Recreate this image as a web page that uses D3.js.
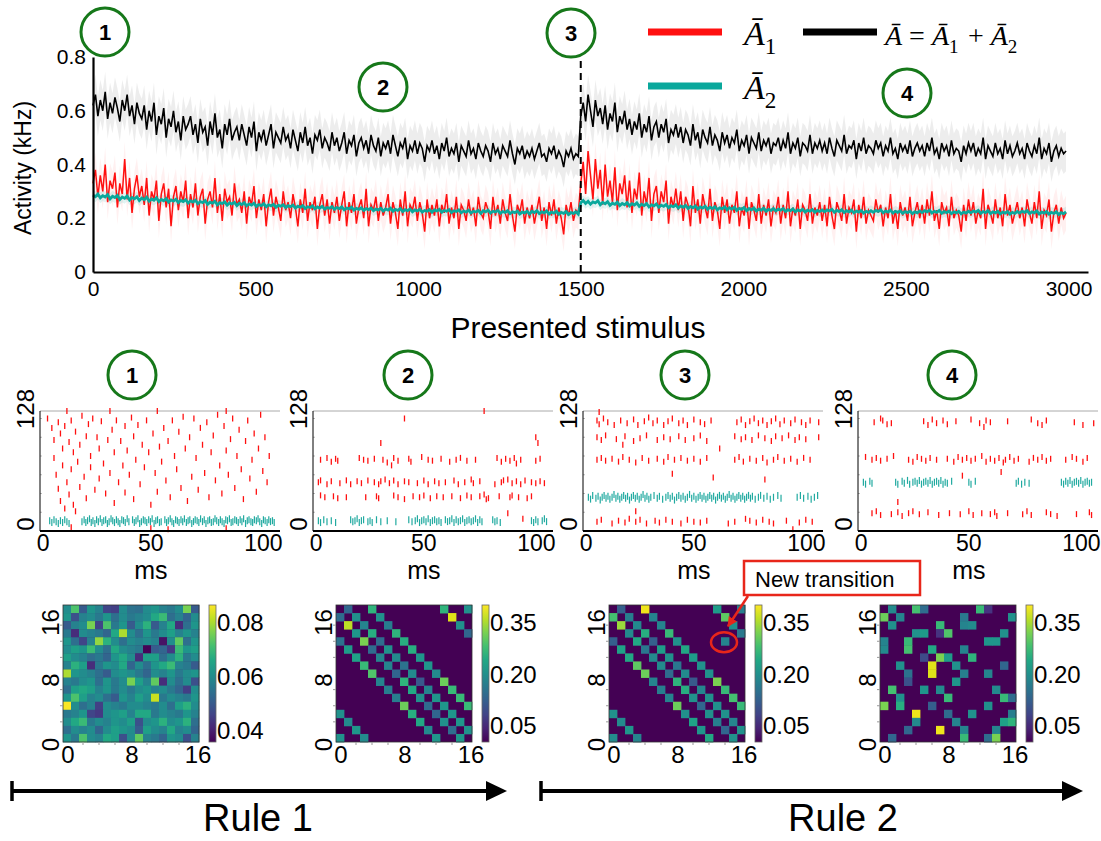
<!DOCTYPE html>
<html>
<head>
<meta charset="utf-8">
<script src="https://cdn.jsdelivr.net/npm/d3@7"></script>
<style>
  body { margin: 0; background: #fff; }
  svg { display: block; font-family: "Liberation Sans", Arial, Helvetica, sans-serif; }
</style>
</head>
<body>
<svg id="fig" width="1101" height="841"></svg>
<script>
/* ---------- top panel: mean activity per presented stimulus (kHz), sampled every 7.5 stimuli ---------- */
const stimulus = d3.range(0, 3000, 7.5);
const activityTotal = [
  0.62,0.66,0.58,0.64,0.60,0.67,0.57,0.63,0.59,0.65,0.61,0.56,0.64,0.60,0.66,0.58,0.62,0.55,0.63,0.59,
  0.57,0.62,0.53,0.60,0.56,0.63,0.51,0.58,0.55,0.61,0.50,0.57,0.54,0.60,0.52,0.56,0.49,0.58,0.53,0.55,
  0.58,0.51,0.55,0.48,0.57,0.52,0.54,0.47,0.56,0.51,0.59,0.50,0.53,0.46,0.55,0.51,0.57,0.49,0.52,0.54,
  0.49,0.55,0.51,0.47,0.54,0.50,0.56,0.45,0.52,0.49,0.53,0.47,0.51,0.55,0.46,0.52,0.50,0.48,0.54,0.49,
  0.51,0.46,0.53,0.49,0.45,0.52,0.48,0.54,0.47,0.50,0.44,0.51,0.49,0.53,0.46,0.50,0.48,0.45,0.52,0.47,
  0.50,0.45,0.48,0.52,0.44,0.49,0.47,0.51,0.43,0.48,0.50,0.46,0.49,0.44,0.51,0.47,0.45,0.50,0.43,0.48,
  0.46,0.49,0.44,0.51,0.47,0.43,0.48,0.46,0.50,0.42,0.47,0.45,0.49,0.44,0.48,0.46,0.41,0.47,0.45,0.49,
  0.44,0.47,0.42,0.48,0.45,0.50,0.43,0.46,0.44,0.48,0.41,0.47,0.45,0.43,0.49,0.44,0.46,0.42,0.48,0.45,
  0.43,0.47,0.45,0.41,0.48,0.44,0.46,0.42,0.47,0.45,0.43,0.49,0.44,0.40,0.46,0.44,0.47,0.42,0.45,0.43,
  0.46,0.42,0.45,0.48,0.43,0.44,0.41,0.46,0.44,0.47,0.42,0.45,0.43,0.39,0.45,0.43,0.46,0.42,0.44,0.43,
  0.58,0.63,0.56,0.66,0.60,0.54,0.64,0.58,0.61,0.55,0.62,0.53,0.59,0.56,0.63,0.52,0.58,0.55,0.60,0.53,
  0.57,0.51,0.56,0.53,0.59,0.50,0.55,0.52,0.58,0.49,0.54,0.56,0.50,0.55,0.52,0.57,0.48,0.53,0.51,0.55,
  0.50,0.54,0.48,0.53,0.51,0.47,0.55,0.49,0.52,0.46,0.53,0.50,0.48,0.54,0.47,0.51,0.49,0.45,0.52,0.48,
  0.51,0.46,0.50,0.48,0.53,0.45,0.49,0.47,0.51,0.44,0.50,0.48,0.46,0.52,0.45,0.49,0.47,0.50,0.44,0.48,
  0.47,0.50,0.45,0.49,0.46,0.52,0.44,0.48,0.46,0.50,0.43,0.48,0.47,0.45,0.51,0.44,0.48,0.46,0.49,0.45,
  0.48,0.44,0.50,0.46,0.43,0.49,0.47,0.45,0.51,0.44,0.47,0.46,0.49,0.42,0.48,0.45,0.50,0.44,0.47,0.46,
  0.44,0.49,0.46,0.48,0.43,0.47,0.45,0.50,0.44,0.46,0.42,0.48,0.45,0.47,0.44,0.49,0.43,0.46,0.48,0.45,
  0.47,0.43,0.48,0.45,0.50,0.44,0.46,0.42,0.48,0.45,0.47,0.43,0.49,0.44,0.46,0.45,0.41,0.47,0.44,0.48,
  0.45,0.48,0.43,0.46,0.44,0.50,0.42,0.47,0.45,0.43,0.48,0.44,0.46,0.42,0.49,0.44,0.47,0.43,0.45,0.48,
  0.44,0.46,0.42,0.48,0.45,0.43,0.47,0.44,0.50,0.42,0.46,0.44,0.48,0.41,0.45,0.47,0.43,0.46,0.44,0.45
];
const activityA1 = [
  0.33,0.38,0.28,0.36,0.30,0.40,0.26,0.34,0.31,0.37,0.24,0.33,0.29,0.42,0.27,0.35,0.22,0.31,0.36,0.28,
  0.32,0.25,0.35,0.21,0.30,0.27,0.34,0.19,0.29,0.33,0.24,0.31,0.17,0.28,0.32,0.23,0.30,0.26,0.34,0.20,
  0.29,0.24,0.33,0.21,0.28,0.31,0.18,0.27,0.30,0.24,0.35,0.22,0.29,0.19,0.31,0.26,0.28,0.21,0.33,0.25,
  0.27,0.22,0.30,0.18,0.28,0.25,0.32,0.20,0.27,0.23,0.29,0.17,0.26,0.31,0.21,0.28,0.24,0.19,0.30,0.23,
  0.26,0.20,0.29,0.24,0.17,0.27,0.22,0.31,0.19,0.26,0.23,0.28,0.16,0.25,0.29,0.21,0.27,0.18,0.26,0.22,
  0.28,0.19,0.25,0.30,0.17,0.26,0.22,0.29,0.18,0.24,0.27,0.20,0.31,0.17,0.25,0.23,0.28,0.19,0.26,0.21,
  0.24,0.29,0.18,0.26,0.22,0.16,0.27,0.21,0.30,0.17,0.25,0.23,0.28,0.19,0.26,0.22,0.15,0.27,0.20,0.25,
  0.21,0.27,0.17,0.25,0.22,0.29,0.18,0.24,0.20,0.28,0.16,0.25,0.23,0.19,0.27,0.21,0.24,0.17,0.28,0.22,
  0.20,0.26,0.23,0.16,0.28,0.21,0.25,0.18,0.27,0.22,0.19,0.29,0.21,0.15,0.25,0.22,0.27,0.18,0.24,0.20,
  0.25,0.18,0.23,0.28,0.19,0.24,0.16,0.26,0.21,0.27,0.18,0.24,0.20,0.14,0.25,0.21,0.26,0.19,0.23,0.22,
  0.33,0.41,0.29,0.45,0.36,0.27,0.42,0.31,0.38,0.25,0.40,0.28,0.34,0.26,0.39,0.23,0.33,0.29,0.36,0.24,
  0.34,0.22,0.31,0.27,0.37,0.21,0.30,0.25,0.35,0.19,0.29,0.32,0.22,0.30,0.26,0.34,0.18,0.28,0.24,0.31,
  0.23,0.30,0.19,0.28,0.25,0.17,0.32,0.22,0.27,0.18,0.29,0.24,0.20,0.31,0.19,0.26,0.23,0.16,0.28,0.22,
  0.27,0.18,0.25,0.22,0.30,0.17,0.24,0.21,0.28,0.16,0.26,0.23,0.19,0.29,0.18,0.25,0.21,0.27,0.17,0.24,
  0.22,0.28,0.18,0.25,0.20,0.30,0.17,0.24,0.21,0.27,0.16,0.25,0.23,0.19,0.29,0.18,0.24,0.21,0.26,0.19,
  0.25,0.17,0.28,0.21,0.16,0.26,0.23,0.19,0.29,0.18,0.24,0.22,0.27,0.15,0.25,0.20,0.28,0.18,0.23,0.21,
  0.19,0.27,0.22,0.25,0.17,0.24,0.20,0.29,0.18,0.23,0.16,0.26,0.21,0.24,0.19,0.28,0.17,0.22,0.26,0.20,
  0.25,0.18,0.27,0.21,0.30,0.19,0.23,0.16,0.26,0.22,0.24,0.17,0.28,0.20,0.23,0.21,0.15,0.25,0.19,0.27,
  0.21,0.26,0.18,0.23,0.20,0.31,0.16,0.25,0.22,0.18,0.27,0.20,0.24,0.17,0.29,0.21,0.25,0.18,0.22,0.26,
  0.20,0.24,0.17,0.27,0.22,0.18,0.26,0.20,0.30,0.16,0.23,0.21,0.27,0.15,0.22,0.25,0.18,0.24,0.20,0.22
];
const activityA2 = [
  .286,.280,.290,.276,.284,.279,.288,.272,.282,.277,.285,.270,.279,.274,.283,.268,.277,.272,.280,.266,
  .275,.269,.278,.264,.272,.267,.276,.262,.270,.265,.273,.260,.268,.264,.271,.258,.266,.262,.269,.256,
  .265,.260,.267,.254,.262,.258,.266,.252,.260,.256,.263,.250,.258,.255,.261,.249,.257,.253,.259,.247,
  .256,.251,.258,.246,.253,.249,.256,.244,.251,.247,.254,.243,.250,.246,.252,.241,.248,.245,.250,.240,
  .247,.243,.249,.238,.245,.241,.247,.236,.243,.240,.246,.235,.242,.238,.244,.234,.240,.237,.243,.233,
  .240,.236,.242,.231,.238,.235,.241,.230,.237,.233,.239,.229,.236,.232,.238,.228,.234,.231,.237,.227,
  .235,.230,.237,.226,.233,.229,.236,.225,.232,.228,.234,.224,.231,.227,.233,.223,.229,.226,.232,.222,
  .231,.227,.233,.222,.229,.226,.232,.221,.228,.225,.231,.220,.227,.223,.230,.219,.226,.223,.229,.218,
  .228,.224,.230,.219,.226,.223,.229,.218,.225,.222,.228,.217,.224,.221,.227,.216,.223,.220,.226,.216,
  .226,.221,.228,.217,.224,.220,.227,.216,.223,.219,.226,.215,.222,.218,.225,.214,.221,.218,.224,.215,
  .258,.266,.255,.263,.252,.261,.257,.265,.250,.259,.254,.262,.248,.256,.252,.260,.247,.255,.250,.258,
  .246,.254,.249,.257,.244,.252,.247,.255,.242,.250,.246,.253,.241,.249,.244,.251,.239,.247,.243,.250,
  .238,.246,.241,.248,.236,.244,.239,.246,.234,.242,.238,.245,.233,.241,.236,.243,.231,.239,.235,.242,
  .231,.239,.234,.241,.229,.237,.233,.240,.228,.236,.231,.238,.227,.234,.230,.237,.226,.233,.229,.236,
  .227,.234,.230,.236,.225,.232,.228,.235,.224,.231,.227,.233,.223,.230,.226,.232,.222,.229,.225,.231,
  .224,.231,.227,.233,.222,.229,.225,.232,.221,.228,.224,.230,.220,.227,.223,.229,.219,.226,.222,.228,
  .222,.229,.225,.231,.220,.227,.223,.230,.219,.226,.222,.228,.218,.225,.221,.227,.217,.224,.220,.227,
  .221,.228,.224,.230,.219,.226,.222,.229,.218,.225,.221,.227,.217,.224,.220,.226,.216,.223,.219,.226,
  .220,.227,.223,.229,.218,.225,.221,.228,.217,.224,.220,.226,.216,.223,.219,.225,.215,.222,.218,.225,
  .219,.226,.222,.228,.217,.224,.220,.227,.216,.223,.219,.225,.215,.222,.218,.224,.214,.221,.217,.224
];
// spread (shaded band) around each mean, kHz
const spreadTotal = 0.075, spreadA1 = 0.065, spreadA2 = 0.02;
const xTicksTop = [0, 500, 1000, 1500, 2000, 2500, 3000];
const yTicksTop = [0, 0.2, 0.4, 0.6, 0.8];
const ruleSwitch = 1500;

/* ---------- raster panels: [time ms, neuron] ---------- */
const raster1Red = [[2,120],[4,110],[5,97],[5,78],[6,60],[7,116],[7,45],[8,104],[8,32],[9,88],[9,70],[10,112],[10,24],[11,128],[11,52],[12,95],[12,39],[13,118],[13,66],[13,4],[14,84],[14,28],[15,106],[15,21],[16,74],[17,92],[17,47],[18,123],[19,58],[20,101],[20,35],[21,114],[22,80],[22,68],[23,120],[24,44],[25,100],[26,88],[26,56],[27,117],[28,72],[29,40],[30,97],[31,128],[31,62],[32,108],[33,84],[33,30],[34,118],[35,52],[36,96],[37,70],[38,112],[38,41],[39,86],[40,60],[41,121],[42,101],[42,34],[43,76],[44,113],[45,50],[46,92],[47,68],[48,118],[49,84],[50,28],[50,3],[51,104],[52,62],[53,128],[53,42],[54,90],[55,74],[56,110],[57,54],[58,96],[58,2],[59,36],[60,118],[61,80],[62,66],[63,106],[64,46],[65,122],[66,88],[67,32],[68,100],[69,58],[70,120],[71,78],[72,44],[73,110],[74,92],[75,62],[76,116],[77,36],[78,84],[79,102],[80,54],[81,124],[82,70],[83,40],[84,112],[85,128],[85,86],[85,3],[86,60],[87,98],[88,120],[89,46],[90,80],[91,108],[92,66],[93,34],[94,96],[95,118],[96,56],[97,76],[98,104],[99,42],[100,88],[101,124],[102,64],[103,100],[104,52],[105,80]];
const raster1Cyan = [[3,11],[4,9],[5,12],[6,10],[7,8],[8,11],[9,9],[10,12],[11,10],[12,8],[18,10],[19,12],[19.8,9],[20.6,11],[21.5,13],[22.3,9],[23.1,11],[24,8],[24.8,12],[25.6,10],[26.5,13],[27.3,9],[28.1,11],[29,12],[29.8,8],[30.6,10],[31.5,13],[32.3,11],[33.1,9],[34,12],[34.8,10],[35.6,8],[36.5,12],[37.3,11],[38.1,9],[39,13],[39.8,10],[41.5,12],[42.3,9],[43.1,11],[44,13],[44.8,8],[45.6,10],[46.5,12],[47.3,11],[48.1,9],[49,12],[49.8,10],[50.6,13],[51.5,8],[52.3,11],[53.1,12],[54,9],[54.8,10],[56.5,12],[57.3,9],[58.1,11],[59,13],[59.8,10],[60.6,8],[61.5,12],[62.3,11],[63.1,9],[64,12],[64.8,10],[65.6,13],[66.5,9],[67.3,11],[68.1,12],[69,8],[69.8,10],[70.6,12],[71.5,11],[72.3,9],[73.1,13],[74,10],[74.8,12],[75.6,8],[76.5,11],[77.3,12],[78.1,9],[79,10],[79.8,13],[80.6,11],[81.5,9],[82.3,12],[83.1,10],[84,8],[84.8,12],[85.6,11],[86.5,13],[87.3,9],[88.1,10],[89,12],[89.8,11],[90.6,9],[91.5,12],[92.3,10],[93.1,13],[94,8],[94.8,11],[95.6,12],[96.5,10],[97.3,9],[98.1,12],[99,11],[99.8,13],[100.6,10],[101.5,8],[102.3,12],[103.1,11],[104,9],[104.8,12],[105.6,10],[106.5,11],[107.3,9]];

const raster2Red = [[2,76],[5,78],[7,74],[9,77],[10,75],[20,78],[22,76],[24,75],[27,77],[31,76],[33,73],[36,78],[38,75],[43,77],[44,74],[49,79],[52,76],[54,75],[58,77],[62,74],[65,76],[67,78],[70,75],[74,76],[84,78],[86,74],[88,77],[90,75],[92,78],[93,72],[95,76],[102,75],[104,77],
  [1,52],[2,54],[5,50],[7,53],[11,51],[14,54],[16,50],[19,53],[21,51],[24,54],[27,52],[29,50],[30,53],[32,55],[34,51],[36,54],[38,50],[41,53],[43,52],[47,51],[50,54],[52,50],[55,53],[57,51],[60,52],[64,54],[66,50],[69,52],[72,55],[73,51],[76,53],[83,50],[86,52],[87,54],[89,55],[91,51],[93,53],[95,50],[97,54],[100,52],[102,51],[104,53],[106,51],
  [2,38],[4,36],[8,37],[10,35],[14,36],[23,36],[28,37],[29,35],[36,38],[38,36],[41,34],[45,37],[48,36],[50,38],[53,35],[56,37],[59,36],[63,37],[67,35],[70,38],[72,36],[76,37],[78,39],[79,34],[80,35],[85,37],[90,36],[91,38],[94,36],[98,35],[100,37],
  [41,120],[30,94],[78,128],[102,100],[103,94],[89,19],[96,13],[35,70]];
const raster2Cyan = [[1,11],[2,9],[3.5,12],[5,10],[7,11],[9,9],[16,12],[17,10],[18,11],[19,13],[20,9],[21,11],[22,12],[24,10],[25,11],[26,9],[28,12],[30,10],[33,11],[37,10],[43,12],[44.5,10],[46,11],[47,13],[48,9],[49,11],[50,12],[51,10],[52,13],[53,9],[54,11],[55,12],[56,10],[57,11],[58,9],[60,12],[61,10],[62,11],[63,13],[64,9],[65,12],[66,10],[67,11],[68,13],[69,9],[70,11],[71,12],[72,10],[73,11],[74,13],[75,9],[76,12],[77,10],[82,12],[83,10],[84,11],[85.5,9],[100,11],[101,9],[102,12],[103,10],[105,11],[106,13],[107,10]];

const raster3Red = [[5,118],[6,114],[8,120],[10,116],[13,113],[16,118],[19,115],[22,119],[24,113],[27,117],[29,121],[31,115],[33,118],[36,113],[38,117],[40,120],[43,115],[45,118],[47,113],[50,119],[53,116],[55,114],[58,118],[70,116],[72,119],[74,113],[76,117],[78,120],[80,115],[82,118],[84,113],[86,117],[88,120],[90,114],[92,118],[95,115],[97,119],[100,116],[102,113],[104,118],[108,116],
  [5,100],[7,97],[9,102],[14,98],[18,101],[22,96],[25,99],[28,102],[33,97],[36,100],[39,98],[43,101],[46,97],[50,99],[53,102],[56,96],[69,101],[72,98],[74,100],[77,97],[80,102],[83,99],[86,96],[88,101],[91,99],[94,102],[97,97],[99,100],[102,98],[108,100],
  [5,76],[7,78],[9,75],[12,77],[15,74],[17,79],[20,76],[23,73],[26,78],[29,75],[33,77],[36,74],[38,79],[41,76],[44,78],[47,75],[50,77],[53,74],[56,78],[69,76],[71,79],[73,74],[76,77],[79,75],[82,78],[84,73],[87,76],[89,79],[92,75],[95,77],[98,74],[101,78],[104,76],
  [5,10],[7,12],[12,8],[15,11],[18,9],[20,13],[23,10],[25,12],[28,8],[32,11],[34,9],[37,12],[40,10],[44,8],[47,12],[50,10],[53,9],[56,11],[66,8],[69,10],[74,13],[76,11],[79,9],[82,12],[85,10],[87,8],[93,11],[99,9],[102,12],[105,10],
  [6,127],[17,92],[23,21],[40,61],[59,57],[62,88],[83,55],[96,2]];
const raster3Cyan = [[1,36],[2,34],[3,38],[4.5,35],[5.5,37],[6.5,33],[7.4,36],[8.3,38],[9.2,35],[10.1,37],[11,34],[12,36],[12.9,39],[13.8,35],[14.7,37],[15.6,34],[16.5,36],[17.4,38],[18.3,35],[19.2,37],[20.1,33],[21,36],[21.9,38],[22.8,35],[23.7,37],[24.6,34],[25.5,36],[26.4,39],[27.3,35],[28.2,37],[29.1,34],[30,36],[31.5,38],[33,35],[34,37],[35.5,34],[37,36],[38,38],[39,35],[40,37],[41,33],[42,36],[43,38],[44,35],[45,37],[46,34],[47,36],[48,39],[49,35],[50,37],[51,34],[52,36],[52.9,38],[53.8,35],[54.7,37],[55.6,34],[56.5,36],[57.4,38],[58.3,35],[59.2,37],[60.1,33],[61,36],[61.9,38],[62.8,35],[63.7,37],[64.6,34],[65.5,36],[66.4,39],[67.3,35],[68.2,37],[69.1,34],[70,36],[70.9,38],[71.8,35],[72.7,37],[73.6,34],[74.5,36],[75.4,38],[76.3,35],[77.2,37],[78.5,34],[80,36],[81,38],[82.5,35],[84,37],[85.5,34],[87,36],[89,38],[90.5,35],[98,36],[99.5,38],[101,35],[103,37],[104.5,34],[106,36],[107.5,38]];

const raster4Red = [[6,116],[9,120],[10,118],[12,114],[14,115],[29,117],[31,113],[33,119],[35,115],[38,118],[40,114],[44,117],[51,119],[55,115],[57,111],[58,118],[60,116],[68,117],[79,119],[82,115],[84,113],[86,118],[99,116],[103,113],[108,115],
  [2,79],[5,76],[7,78],[9,75],[12,77],[15,80],[22,76],[24,74],[26,79],[28,77],[30,75],[32,78],[35,76],[40,77],[43,74],[45,79],[47,76],[49,78],[51,75],[53,77],[56,80],[58,74],[60,77],[62,75],[64,78],[66,73],[67,76],[69,79],[71,75],[73,77],[78,74],[80,78],[82,76],[84,79],[86,75],[88,77],[95,76],[98,79],[100,77],[103,74],[105,78],
  [5,19],[7,21],[9,17],[14,18],[17,20],[19,16],[22,19],[24,21],[27,18],[31,20],[36,17],[41,19],[46,18],[50,21],[52,17],[56,19],[60,18],[62,20],[63,16],[68,19],[75,18],[77,21],[79,17],[86,20],[88,18],[91,16],[100,18],[106,20],[107,17],
  [17,31],[47,59],[65,63]];
const raster4Cyan = [[1,52],[2,50],[4,53],[5,51],[16,52],[17,50],[19,53],[20,51],[21.5,54],[22.5,50],[24,52],[25,53],[26,51],[27,54],[28,50],[29,52],[30,53],[31,51],[32,54],[33,50],[34,52],[35,53],[36,51],[37,54],[38,50],[39,52],[40,51],[42,53],[50,52],[51,50],[53,53],[72,51],[73,53],[74.5,50],[76,52],[78,51],[93,52],[94,50],[95,53],[96,51],[97,54],[98,50],[99,52],[100,53],[101,51],[102,54],[103,50],[104,52],[105,53],[106,51],[107,52]];
const rasterXTicks = [0, 50, 100];
const rasterYTicks = [0, 128];

/* ---------- transition matrices (17 x 17) ---------- */
// rule-1 early: dense, rows listed from top (state 16) to bottom (state 0)
const matrix1Rows = [
  [.060,.072,.050,.062,.058,.046,.045,.060,.055,.054,.060,.062,.058,.056,.060,.076,.050],
  [.062,.048,.058,.060,.056,.062,.054,.060,.056,.058,.060,.066,.070,.054,.058,.052,.060],
  [.050,.058,.060,.076,.046,.072,.056,.062,.050,.060,.068,.050,.058,.066,.042,.054,.062],
  [.056,.042,.060,.058,.056,.052,.066,.080,.060,.054,.062,.056,.060,.064,.058,.062,.058],
  [.062,.054,.046,.058,.078,.068,.060,.054,.060,.058,.060,.058,.038,.060,.074,.054,.062],
  [.060,.064,.062,.070,.060,.054,.066,.060,.058,.056,.036,.050,.052,.044,.070,.062,.064],
  [.064,.060,.058,.054,.056,.052,.062,.066,.060,.042,.064,.064,.054,.060,.068,.056,.060],
  [.058,.068,.064,.042,.056,.062,.060,.066,.052,.060,.054,.062,.066,.070,.058,.056,.050],
  [.080,.062,.060,.058,.054,.050,.060,.062,.060,.056,.052,.060,.058,.062,.056,.060,.062],
  [.058,.056,.060,.062,.054,.062,.056,.060,.076,.064,.058,.074,.042,.060,.054,.060,.048],
  [.054,.064,.066,.064,.058,.062,.056,.060,.056,.060,.062,.058,.060,.056,.052,.045,.060],
  [.062,.072,.064,.058,.060,.054,.050,.062,.058,.064,.060,.082,.056,.060,.058,.056,.062],
  [.086,.060,.054,.058,.045,.060,.058,.056,.060,.060,.058,.056,.060,.054,.064,.068,.060],
  [.056,.058,.062,.046,.044,.060,.062,.064,.058,.066,.066,.056,.060,.058,.056,.062,.058],
  [.060,.066,.070,.056,.060,.058,.062,.060,.064,.048,.060,.062,.068,.060,.062,.068,.054],
  [.054,.060,.058,.060,.052,.060,.064,.062,.060,.050,.064,.060,.058,.066,.058,.060,.052],
  [.062,.056,.072,.060,.058,.066,.064,.048,.060,.074,.058,.056,.052,.062,.060,.048,.058]
];
// sparse matrices: [row (state, 0 = bottom), column, value]; other cells are 0
const matrix2Cells = [
  [16,16,.20],[16,1,.13],[16,4,.26],[16,13,.26],[15,0,.14],[15,2,.20],[15,5,.20],[15,14,.38],
  [14,1,.36],[14,3,.18],[14,6,.17],[14,15,.20],[13,2,.21],[13,4,.25],[13,7,.26],[13,16,.13],
  [12,3,.32],[12,5,.14],[12,8,.25],[12,0,.15],[11,4,.14],[11,6,.20],[11,9,.25],[11,1,.22],
  [10,5,.18],[10,7,.19],[10,10,.21],[10,2,.23],[9,6,.18],[9,8,.15],[9,11,.21],[9,3,.27],
  [8,7,.13],[8,9,.19],[8,12,.19],[8,4,.29],[7,8,.26],[7,10,.11],[7,13,.31],[7,5,.18],
  [6,9,.24],[6,11,.18],[6,14,.27],[6,6,.17],[5,10,.20],[5,12,.21],[5,15,.27],[5,7,.17],
  [4,11,.14],[4,13,.21],[4,16,.27],[4,8,.31],[3,12,.13],[3,14,.21],[3,0,.20],[3,9,.25],
  [2,13,.20],[2,15,.21],[2,1,.19],[2,10,.24],[1,14,.14],[1,16,.20],[1,2,.21],[1,11,.19],
  [0,15,.21],[0,0,.20],[0,3,.19],[0,12,.21]
];
const matrix3Cells = [
  [16,16,.17],[16,1,.12],[16,4,.39],[16,13,.22],[15,0,.28],[15,2,.17],[15,5,.18],[15,14,.30],
  [14,1,.34],[14,3,.19],[14,6,.18],[14,15,.20],[13,2,.19],[13,4,.25],[13,7,.27],[13,16,.16],
  [12,3,.24],[12,5,.12],[12,8,.20],[12,0,.12],[12,14,.18],[11,4,.16],[11,6,.22],[11,9,.24],[11,1,.23],
  [10,5,.19],[10,7,.20],[10,10,.22],[10,2,.24],[9,6,.19],[9,8,.16],[9,11,.20],[9,3,.30],
  [8,7,.14],[8,9,.19],[8,12,.20],[8,4,.31],[7,8,.26],[7,10,.11],[7,13,.32],[7,5,.18],
  [6,9,.25],[6,11,.18],[6,14,.27],[6,6,.17],[5,10,.20],[5,12,.20],[5,15,.28],[5,7,.18],
  [4,11,.13],[4,13,.20],[4,16,.27],[4,8,.31],[3,12,.20],[3,14,.20],[3,0,.20],[3,9,.20],
  [2,13,.17],[2,15,.18],[2,1,.19],[2,10,.23],[1,14,.13],[1,16,.20],[1,2,.21],[1,11,.21],
  [0,15,.20],[0,0,.19],[0,3,.18],[0,12,.24]
];
const matrix4Cells = [
  [16,1,.19],[16,4,.28],[16,5,.14],[16,12,.27],[16,13,.06],[15,0,.31],[15,2,.18],[15,10,.16],[15,16,.20],
  [14,1,.20],[14,7,.27],[14,10,.18],[14,11,.19],[13,4,.20],[13,5,.22],[13,7,.06],[13,8,.29],[13,15,.20],
  [12,0,.18],[12,3,.27],[12,13,.21],[12,14,.21],[11,0,.19],[11,3,.28],[11,6,.24],[11,10,.18],
  [10,5,.09],[10,7,.32],[10,8,.22],[10,11,.26],[9,2,.20],[9,6,.38],[9,9,.20],[9,15,.13],
  [8,3,.15],[8,6,.38],[8,10,.17],[8,13,.18],[7,3,.10],[7,9,.21],
  [6,1,.28],[6,5,.21],[6,7,.19],[6,14,.19],[5,2,.20],[5,8,.27],[5,15,.27],[5,16,.14],
  [4,0,.32],[4,2,.25],[4,6,.12],[4,13,.20],[3,4,.39],[3,8,.14],[3,11,.20],[3,16,.17],
  [2,4,.19],[2,9,.18],[2,15,.23],[2,16,.26],[1,3,.13],[1,7,.39],[1,10,.18],[1,14,.18],
  [0,1,.13],[0,10,.27],[0,13,.14],[0,14,.32]
];
const matrixTicks = [0, 8, 16];
const colorbar1Ticks = [0.04, 0.06, 0.08];
const colorbarTicks = [0.05, 0.20, 0.35];
const circleLabels = ["1", "2", "3", "4"];

/* ================= drawing ================= */
const svg = d3.select("#fig");
const FONT = '"Liberation Sans", Arial, Helvetica, sans-serif';
const SERIF = '"Liberation Serif", "DejaVu Serif", serif';
const RED = "#ff1010", TEAL = "#0aa89c", GREEN = "#16781a";
svg.append("rect").attr("width", 1101).attr("height", 841).attr("fill", "#fff");

function greenCircle(cx, cy, label) {
  svg.append("circle").attr("cx", cx).attr("cy", cy).attr("r", 24)
    .attr("fill", "#fff").attr("stroke", GREEN).attr("stroke-width", 3);
  svg.append("text").attr("x", cx).attr("y", cy + 8).attr("text-anchor", "middle")
    .attr("font-size", 22).attr("font-weight", "bold").text(label);
}

/* --- top time series --- */
const x = d3.scaleLinear().domain([0, 3060]).range([93, 1088]);
const y = d3.scaleLinear().domain([0, 0.8]).range([272, 57]);
const gTop = svg.append("g");
const band = (sd) => d3.area().x((d, i) => x(stimulus[i])).y0((d) => y(d - sd)).y1((d) => y(d + sd));
const line = d3.line().x((d, i) => x(stimulus[i])).y((d) => y(d));

gTop.append("path").datum(activityTotal).attr("d", band(spreadTotal)).attr("fill", "#000").attr("opacity", 0.07);
gTop.append("path").datum(activityA1).attr("d", band(spreadA1)).attr("fill", "#ff0000").attr("opacity", 0.06);
gTop.append("path").datum(activityA2).attr("d", band(spreadA2)).attr("fill", TEAL).attr("opacity", 0.12);
gTop.append("path").datum(activityTotal).attr("d", line).attr("fill", "none").attr("stroke", "#000").attr("stroke-width", 1.6);
gTop.append("path").datum(activityA1).attr("d", line).attr("fill", "none").attr("stroke", RED).attr("stroke-width", 1.5);
gTop.append("path").datum(activityA2).attr("d", line).attr("fill", "none").attr("stroke", TEAL).attr("stroke-width", 2.8);

gTop.append("line").attr("x1", x(ruleSwitch)).attr("x2", x(ruleSwitch))
  .attr("y1", y(0)).attr("y2", y(0.8)).attr("stroke", "#000").attr("stroke-width", 2)
  .attr("stroke-dasharray", "7,5");

const yAx = gTop.append("g").attr("transform", `translate(${x(0)},0)`)
  .call(d3.axisLeft(y).tickValues(yTicksTop).tickFormat((d) => (d === 0 ? "0" : d.toFixed(1))).tickSize(0).tickPadding(7));
const xAx = gTop.append("g").attr("transform", `translate(0,${y(0)})`)
  .call(d3.axisBottom(x).tickValues(xTicksTop).tickFormat(d3.format("d")).tickSize(0).tickPadding(9));
[yAx, xAx].forEach((a) => {
  a.attr("font-family", FONT).attr("font-size", 21);
  a.selectAll("text").attr("fill", "#000");
  a.select(".domain").attr("stroke", "#000").attr("stroke-width", 2.2);
});
gTop.append("text").attr("transform", "translate(31,168) rotate(-90)").attr("text-anchor", "middle")
  .attr("font-size", 23).text("Activity (kHz)");
gTop.append("text").attr("x", 578).attr("y", 338).attr("text-anchor", "middle")
  .attr("font-size", 30).text("Presented stimulus");

[[105, 32], [383, 87], [571, 33], [907, 93]].forEach((p, i) => greenCircle(p[0], p[1], circleLabels[i]));

/* legend */
const legend = [
  { color: RED, x1: 648, x2: 722, y: 32 },
  { color: TEAL, x1: 648, x2: 722, y: 86 },
  { color: "#000", x1: 803, x2: 877, y: 32 }
];
svg.selectAll("line.leg").data(legend).join("line").attr("class", "leg")
  .attr("x1", (d) => d.x1).attr("x2", (d) => d.x2).attr("y1", (d) => d.y).attr("y2", (d) => d.y)
  .attr("stroke", (d) => d.color).attr("stroke-width", 7);
function abar(parent, sub, size) {
  parent.append("tspan").attr("font-style", "italic").text("\u0100");
  parent.append("tspan").attr("font-size", size * 0.68).attr("dy", size * 0.27).text(sub);
  parent.append("tspan").attr("font-size", size).attr("dy", -size * 0.27).text("\u200a");
}
const t1 = svg.append("text").attr("x", 744).attr("y", 45).attr("font-family", SERIF).attr("font-size", 34);
abar(t1, "1", 34);
const t2 = svg.append("text").attr("x", 744).attr("y", 99).attr("font-family", SERIF).attr("font-size", 34);
abar(t2, "2", 34);
const t3 = svg.append("text").attr("x", 885).attr("y", 45).attr("font-family", SERIF).attr("font-size", 28);
t3.append("tspan").attr("font-style", "italic").text("\u0100");
t3.append("tspan").text(" = ");
abar(t3, "1", 28);
t3.append("tspan").text(" + ");
abar(t3, "2", 28);

/* --- raster panels --- */
const rasters = [
  { red: raster1Red, cyan: raster1Cyan, left: 40, circle: 132 },
  { red: raster2Red, cyan: raster2Cyan, left: 313, circle: 408 },
  { red: raster3Red, cyan: raster3Cyan, left: 583, circle: 685 },
  { red: raster4Red, cyan: raster4Cyan, left: 858, circle: 952 }
];
rasters.forEach((r, k) => {
  const g = svg.append("g");
  const rx = d3.scaleLinear().domain([-1.5, 110]).range([r.left, r.left + 240]);
  const ry = d3.scaleLinear().domain([0, 128]).range([531, 411]);
  g.append("line").attr("x1", r.left).attr("x2", r.left + 240).attr("y1", ry(128)).attr("y2", ry(128))
    .attr("stroke", "#aaa").attr("stroke-width", 1);
  [20, 40, 60, 80, 100, 120].forEach((n) =>
    g.append("line").attr("x1", r.left).attr("x2", r.left + 2).attr("y1", ry(n)).attr("y2", ry(n))
      .attr("stroke", "#bbb").attr("stroke-width", 1));
  const spikes = (data, color, h, w) =>
    g.append("g").selectAll("line").data(data).join("line")
      .attr("x1", (d) => rx(d[0])).attr("x2", (d) => rx(d[0]))
      .attr("y1", (d) => ry(d[1]) - h / 2).attr("y2", (d) => ry(d[1]) + h / 2)
      .attr("stroke", color).attr("stroke-width", w);
  spikes(r.cyan, "#21aaa0", 7, 1.2);
  spikes(r.red, RED, 6, 1.3);
  g.append("line").attr("x1", r.left).attr("x2", r.left).attr("y1", 411).attr("y2", 531)
    .attr("stroke", "#000").attr("stroke-width", 1);
  g.append("line").attr("x1", r.left).attr("x2", r.left + 240).attr("y1", 531).attr("y2", 531)
    .attr("stroke", "#000").attr("stroke-width", 2);
  g.selectAll("text.xt").data(rasterXTicks).join("text").attr("class", "xt")
    .attr("x", (d) => rx(d) + (d === 100 ? 5 : 0)).attr("y", 551).attr("text-anchor", "middle")
    .attr("font-size", 23).text((d) => d);
  g.selectAll("text.yt").data(rasterYTicks).join("text").attr("class", "yt")
    .attr("transform", (d) => `translate(${r.left - 6},${d === 0 ? ry(0) - 7 : ry(128) - 2}) rotate(-90)`)
    .attr("text-anchor", "middle").attr("font-size", 24).text((d) => d);
  g.append("text").attr("x", rx(50)).attr("y", 579).attr("text-anchor", "middle").attr("font-size", 25).text("ms");
  greenCircle(r.circle, 375, circleLabels[k]);
});

/* --- transition matrices --- */
const matrices = [
  { cells: matrix1Rows.flatMap((row, i) => row.map((v, c) => [16 - i, c, v])), domain: [0.0356, 0.0863], ticks: colorbar1Ticks, left: 63, bar: 209 },
  { cells: matrix2Cells, domain: [0, 0.4], ticks: colorbarTicks, left: 336, bar: 482 },
  { cells: matrix3Cells, domain: [0, 0.4], ticks: colorbarTicks, left: 609, bar: 755 },
  { cells: matrix4Cells, domain: [0, 0.4], ticks: colorbarTicks, left: 880, bar: 1026 }
];
const defs = svg.append("defs");
matrices.forEach((m, k) => {
  const g = svg.append("g");
  const hx = d3.scaleBand().domain(d3.range(17)).range([m.left, m.left + 136]);
  const hy = d3.scaleBand().domain(d3.range(17)).range([742, 605]);
  const color = d3.scaleSequential(d3.interpolateViridis).domain(m.domain);
  g.append("rect").attr("x", m.left).attr("y", 605).attr("width", 136).attr("height", 137).attr("fill", color(m.domain[0]));
  g.selectAll("rect.cell").data(m.cells).join("rect").attr("class", "cell")
    .attr("x", (d) => hx(d[1])).attr("y", (d) => hy(d[0]))
    .attr("width", hx.bandwidth() + 0.4).attr("height", hy.bandwidth() + 0.4)
    .attr("fill", (d) => color(d[2]));
  g.append("rect").attr("x", m.left).attr("y", 605).attr("width", 136).attr("height", 137)
    .attr("fill", "none").attr("stroke", "#333").attr("stroke-width", 0.8);
  [2, 4, 6, 10, 12, 14].forEach((v) => {
    g.append("line").attr("x1", m.left - 3).attr("x2", m.left).attr("y1", hy(v) + hy.bandwidth() / 2).attr("y2", hy(v) + hy.bandwidth() / 2).attr("stroke", "#999");
    g.append("line").attr("y1", 742).attr("y2", 745).attr("x1", hx(v) + hx.bandwidth() / 2).attr("x2", hx(v) + hx.bandwidth() / 2).attr("stroke", "#999");
  });
  g.selectAll("text.xt").data(matrixTicks).join("text").attr("class", "xt")
    .attr("x", (d) => hx(d) + hx.bandwidth() / 2 + (d === 16 ? 3 : 1)).attr("y", 763)
    .attr("text-anchor", "middle").attr("font-size", 24).text((d) => d);
  g.selectAll("text.yt").data(matrixTicks).join("text").attr("class", "yt")
    .attr("transform", (d) => `translate(${m.left - 4},${hy(d) + hy.bandwidth() / 2}) rotate(-90)`)
    .attr("text-anchor", "end").attr("font-size", 24).text((d) => d);

  // colorbar
  const gid = "cb" + k;
  const grad = defs.append("linearGradient").attr("id", gid).attr("x1", 0).attr("x2", 0).attr("y1", 1).attr("y2", 0);
  d3.range(0, 1.0001, 0.1).forEach((t) =>
    grad.append("stop").attr("offset", t).attr("stop-color", d3.interpolateViridis(t)));
  const cy = d3.scaleLinear().domain(m.domain).range([742, 605]);
  g.append("rect").attr("x", m.bar).attr("y", 605).attr("width", 7).attr("height", 137)
    .attr("fill", `url(#${gid})`).attr("stroke", "#666").attr("stroke-width", 0.8);
  g.selectAll("text.cb").data(m.ticks).join("text").attr("class", "cb")
    .attr("x", m.bar + 8).attr("y", (d) => cy(d) + 9).attr("font-size", 24)
    .text((d) => d3.format(".2f")(d));
});

/* new transition annotation (matrix 3, state 12 -> 14) */
{
  const m = matrices[2];
  const hx = d3.scaleBand().domain(d3.range(17)).range([m.left, m.left + 136]);
  const hy = d3.scaleBand().domain(d3.range(17)).range([742, 605]);
  const cx = hx(14) + hx.bandwidth() / 2, cyy = hy(12) + hy.bandwidth() / 2;
  svg.append("ellipse").attr("cx", cx - 1).attr("cy", cyy + 1).attr("rx", 13).attr("ry", 10)
    .attr("fill", "none").attr("stroke", "#e8261a").attr("stroke-width", 2.5);
  defs.append("marker").attr("id", "redHead").attr("viewBox", "0 0 10 10").attr("refX", 9).attr("refY", 5)
    .attr("markerWidth", 4).attr("markerHeight", 4).attr("orient", "auto")
    .append("path").attr("d", "M0,0L10,5L0,10z").attr("fill", "#e8261a");
  svg.append("line").attr("x1", 748).attr("y1", 596).attr("x2", cx + 3).attr("y2", cyy - 15)
    .attr("stroke", "#e8261a").attr("stroke-width", 2.5).attr("marker-end", "url(#redHead)");
  svg.append("rect").attr("x", 744).attr("y", 561).attr("width", 176).attr("height", 34)
    .attr("fill", "#fff").attr("stroke", "#e8261a").attr("stroke-width", 2.5);
  svg.append("text").attr("x", 755).attr("y", 587).attr("font-size", 22).text("New transition");
}

/* rule arrows */
[{ x1: 12, x2: 507, label: "Rule 1", tx: 258 }, { x1: 541, x2: 1083, label: "Rule 2", tx: 843 }].forEach((a) => {
  svg.append("line").attr("x1", a.x1).attr("x2", a.x2 - 18).attr("y1", 791).attr("y2", 791)
    .attr("stroke", "#000").attr("stroke-width", 4);
  svg.append("line").attr("x1", a.x1).attr("x2", a.x1).attr("y1", 781).attr("y2", 801)
    .attr("stroke", "#000").attr("stroke-width", 3.5);
  svg.append("path").attr("d", `M${a.x2 - 21},781L${a.x2},791L${a.x2 - 21},801Z`).attr("fill", "#000");
  svg.append("text").attr("x", a.tx).attr("y", 831).attr("text-anchor", "middle").attr("font-size", 38).text(a.label);
});
</script>
</body>
</html>
